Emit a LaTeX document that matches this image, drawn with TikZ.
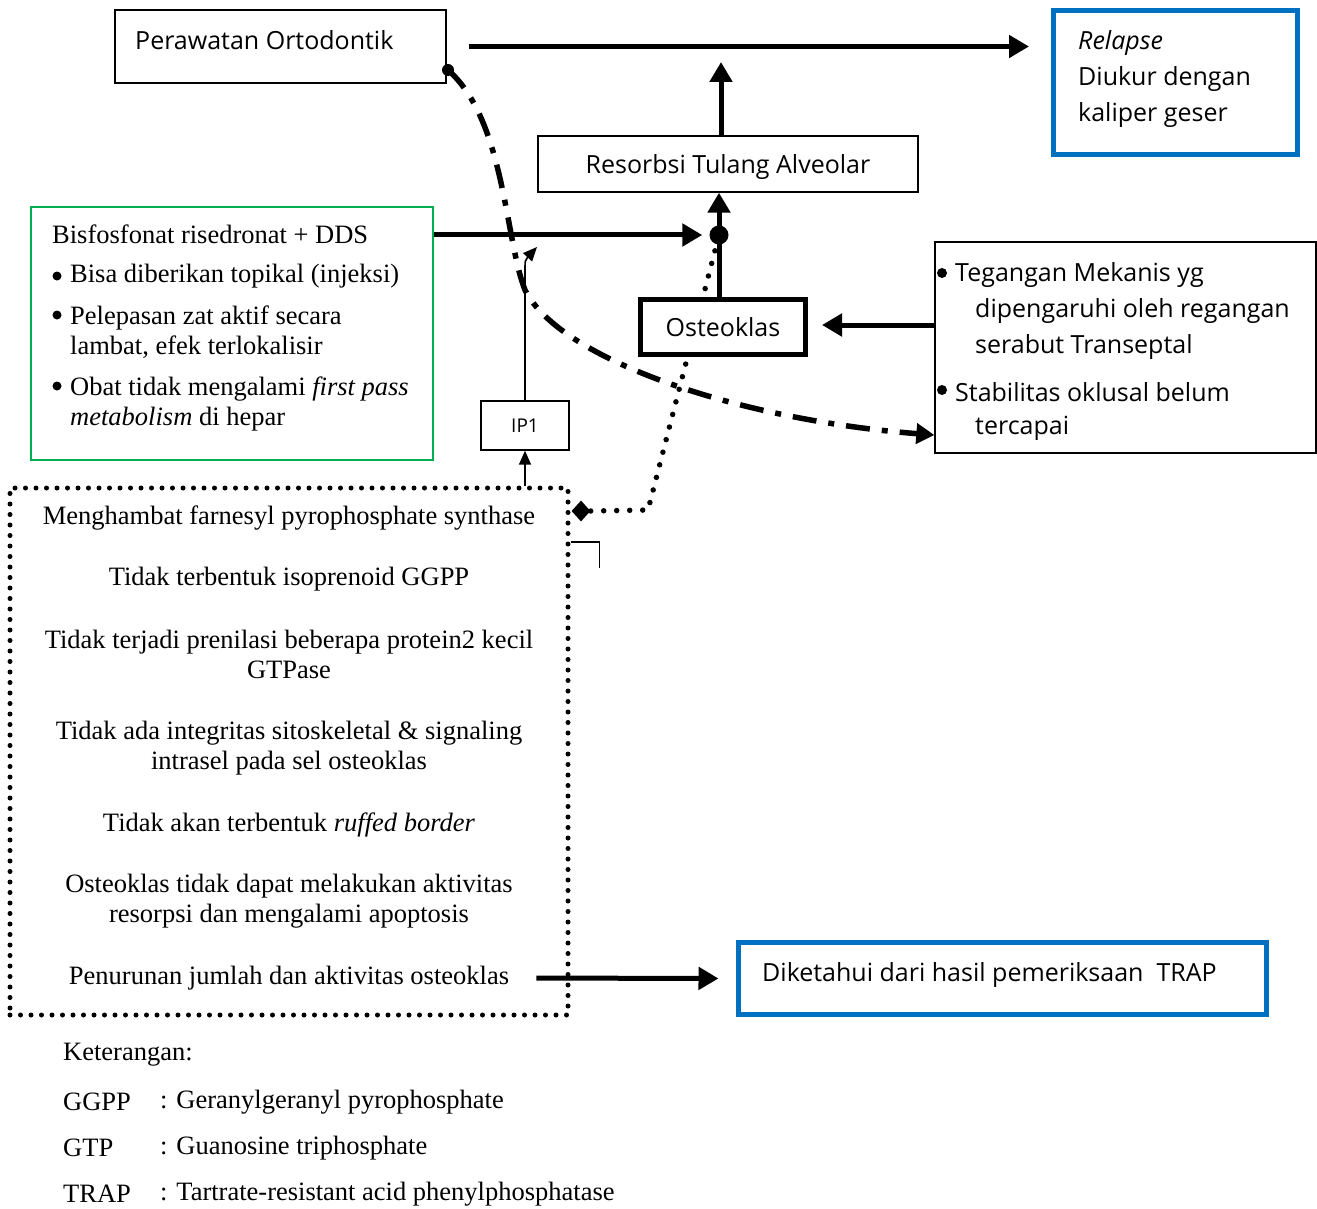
\documentclass[tikz,border=0pt]{standalone}
\usepackage{fontspec}
\setmainfont{Liberation Serif}
\newfontfamily\lightsf{Open Sans}
\usetikzlibrary{arrows.meta,shapes.geometric}

\definecolor{boxblue}{RGB}{0,112,192}
\definecolor{boxgreen}{RGB}{0,176,80}

\tikzset{
  thinbox/.style={draw, line width=1.4pt, inner sep=0pt},
  bluebox/.style={draw=boxblue, line width=5pt, inner sep=0pt},
  greenbox/.style={draw=boxgreen, line width=1.4pt, inner sep=0pt},
  heavy/.style={line width=5pt, -{Triangle[length=20pt,width=22pt]}},
  light/.style={line width=1.6pt, -{Triangle[length=14pt,width=12pt]}},
  sftext/.style={font=\lightsf\fontsize{25}{36}\selectfont, inner sep=0pt},
  rmtext/.style={font=\fontsize{26.5}{30}\selectfont, inner sep=0pt},
  bulletdot/.style={circle, fill, inner sep=0pt, minimum size=#1},
  dotline/.style={line width=5.5pt, line cap=round, dash pattern=on 0pt off 13pt},
  dashdot/.style={line width=5.5pt, dash pattern=on 24pt off 12pt on 6pt off 12pt,
    -{Triangle[length=18pt,width=20pt]}},
}

\begin{document}
\begin{tikzpicture}[x=1pt,y=-1pt]
\useasboundingbox (0,0) rectangle (1317,1209);

% top row
\node[thinbox, minimum width=331pt, minimum height=73pt] (perawatan) at (280.5,46.5) {};
\node[sftext, anchor=west] (perawatantext) at (135,40) {Perawatan Ortodontik};
\node[bluebox, minimum width=244pt, minimum height=144pt] (relapse) at (1175.5,82.5) {};
\node[sftext, anchor=west, align=left] (relapsetext) at (1078,79)
  {\textit{Relapse}\\Diukur dengan\\kaliper geser};
\node[thinbox, minimum width=380pt, minimum height=56pt] (resorbsi) at (728,164) {};
\node[sftext] (resorbsitext) at (728,167) {Resorbsi Tulang Alveolar};
\coordinate (relup) at (721,62);

% bisfosfonat box
\node[greenbox, minimum width=402pt, minimum height=253pt] (bisfos) at (232,333.5) {};
\node[rmtext, anchor=west] (bisfostitle) at (52,234) {Bisfosfonat risedronat + DDS};
\node[bulletdot=9pt] (bulleta) at (57,276) {};
\node[rmtext, anchor=west] (itema) at (70,276) {Bisa diberikan topikal (injeksi)};
\node[bulletdot=9pt] (bulletb) at (57,315) {};
\node[rmtext, anchor=west, align=left] (itemb) at (70,332)
  {Pelepasan zat aktif secara\\lambat, efek terlokalisir};
\node[bulletdot=9pt] (bulletc) at (57,386) {};
\node[rmtext, anchor=west, align=left] (itemc) at (70,404)
  {Obat tidak mengalami \textit{first pass}\\\textit{metabolism} di hepar};

% mechanism box
\node[draw, line width=5pt, line cap=round, dash pattern=on 0pt off 10.5pt,
  minimum width=558pt, minimum height=527pt] (mech) at (289,751.5) {};
\node[rmtext] (stepa) at (289,518) {Menghambat farnesyl pyrophosphate synthase};
\node[rmtext] (stepb) at (289,579) {Tidak terbentuk isoprenoid GGPP};
\node[rmtext, align=center] (stepc) at (289,654)
  {Tidak terjadi prenilasi beberapa protein2 kecil\\GTPase};
\node[rmtext, align=center] (stepd) at (289,748)
  {Tidak ada integritas sitoskeletal \& signaling\\intrasel pada sel osteoklas};
\node[rmtext] (stepe) at (289,825) {Tidak akan terbentuk \textit{ruffed border}};
\node[rmtext, align=center] (stepf) at (289,901)
  {Osteoklas tidak dapat melakukan aktivitas\\resorpsi dan mengalami apoptosis};
\node[rmtext] (stepg) at (289,978) {Penurunan jumlah dan aktivitas osteoklas};
\draw[line width=1.4pt] (mech.east |- 0,542) -- ++(29,0) -- ++(0,26);

% mechanical factors box
\node[thinbox, minimum width=381pt, minimum height=211pt] (tegangan) at (1125.5,347.5) {};
\node[bulletdot=10pt] (bulletd) at (942,273) {};
\node[sftext, anchor=west] (itemd) at (955,275) {Tegangan Mekanis yg};
\node[sftext, anchor=west, align=left] (itemdd) at (975,329)
  {dipengaruhi oleh regangan\\serabut Transeptal};
\node[bulletdot=10pt] (bullete) at (942,390) {};
\node[sftext, anchor=west] (iteme) at (955,392) {Stabilitas oklusal belum};
\node[sftext, anchor=west] (itemee) at (975,428) {tercapai};
\coordinate (curvestart) at (448,70);
\coordinate (curveend) at (tegangan.west |- 0,435);

% small parts
\node[thinbox, font=\lightsf\fontsize{19}{22}\selectfont, minimum width=88pt,
  minimum height=49pt] (ip1) at (525,425.5) {IP1};
\node[circle, fill, inner sep=0pt, minimum size=19pt] (dot) at (719,235) {};
\node[diamond, fill, inner sep=0pt, minimum width=19pt, minimum height=21pt] (diam) at (581,511) {};
\coordinate (bend) at (648,510);

% dotted link runs behind osteoklas
\draw[dotline] (diam.east) -- (bend) -- (dot);
\node[draw, fill=white, line width=5pt, sftext, minimum width=165pt,
  minimum height=55pt] (osteo) at (723,327) {Osteoklas};

% TRAP box
\node[bluebox, minimum width=528pt, minimum height=72pt] (trap) at (1002,978.5) {};
\node[sftext, anchor=west] (traptext) at (762,975) {Diketahui dari hasil pemeriksaan\ \ TRAP};

% connectors
\draw[heavy, shorten <=22pt, shorten >=22pt] (perawatan.east) -- (relapse.west |- perawatan.east);
\draw[heavy] (resorbsi.north -| relup) -- (relup);
\draw[heavy] (osteo.north -| dot) -- (resorbsi.south -| dot);
\draw[heavy, shorten >=7pt] (bisfos.east |- dot) -- (dot.west);
\draw[heavy, shorten >=14pt] (tegangan.west |- 0,325) -- (osteo.east |- 0,325);
\draw[heavy, shorten <=27pt, shorten >=17pt] (stepg.east) -- (trap.west);
\draw[light] (mech.north -| ip1.south) -- (ip1.south);
\draw[light] (ip1.north) -- (525,272) .. controls (525,260) .. (537,247);
\fill (curvestart) circle (6pt);
\draw[dashdot] (curvestart) .. controls (505,120) and (505,240) .. (525,290)
  .. controls (560,360) and (740,420) .. (curveend);

% legend
\node[rmtext, anchor=west] (ket) at (63,1055) {Keterangan:};
\node[rmtext, anchor=west] (ggpp) at (63,1102) {GGPP};
\node[rmtext, anchor=west] (ggppdef) at (160,1102) {: Geranylgeranyl pyrophosphate};
\node[rmtext, anchor=west] (gtp) at (63,1148) {GTP};
\node[rmtext, anchor=west] (gtpdef) at (160,1148) {: Guanosine triphosphate};
\node[rmtext, anchor=west] (trapab) at (63,1194) {TRAP};
\node[rmtext, anchor=west] (trapdef) at (160,1194) {: Tartrate-resistant acid phenylphosphatase};
\end{tikzpicture}
\end{document}
